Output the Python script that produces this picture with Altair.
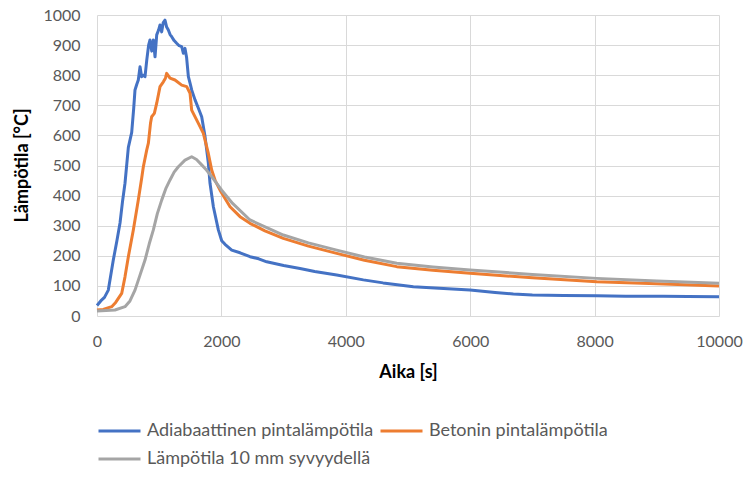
import altair as alt
import pandas as pd

# Time [s] and temperature [°C] samples for each series
blue_t = [0, 60, 120, 182, 262, 320, 370, 410, 450, 504, 558, 590, 611, 640, 664, 692,
          718, 745, 772, 800, 830, 852, 880, 906, 933, 960, 990, 1013, 1040, 1065, 1093,
          1120, 1147, 1175, 1201, 1240, 1281, 1320, 1362, 1388, 1415, 1440, 1469, 1500,
          1522, 1576, 1630, 1683, 1737, 1790, 1817, 1871, 1951, 2005, 2058, 2166, 2300,
          2460, 2600, 2729, 3000, 3264, 3500, 3854, 4282, 4600, 5086, 5500, 5998, 6400,
          6694, 7000, 7500, 8035, 8500, 9100, 9500, 10000]
blue_v = [35, 50, 62, 86, 186, 250, 309, 380, 441, 560, 610, 690, 751, 770, 784, 828,
          795, 800, 795, 850, 900, 917, 880, 917, 861, 934, 950, 967, 944, 975, 983,
          960, 950, 935, 928, 915, 906, 898, 895, 873, 889, 860, 795, 770,
          751, 718, 690, 662, 596, 508, 441, 363, 286, 250, 238, 219, 210,
          197, 190, 180, 168, 158, 148, 136, 120, 110, 97, 92, 86, 78,
          73, 70, 68, 67, 66, 66, 65, 64]

orange_t = [0, 100, 236, 300, 397, 450, 504, 584, 664, 720, 745, 799, 826, 860, 879, 922,
            960, 1013, 1067, 1100, 1120, 1174, 1254, 1362, 1442, 1496, 1522, 1630, 1710,
            1790, 1844, 1900, 1978, 2139, 2300, 2460, 2700, 2996, 3400, 3854, 4300, 4819,
            5400, 5998, 7000, 8035, 9000, 10000]
orange_v = [20, 22, 31, 45, 75, 130, 197, 286, 385, 460, 496, 551, 574, 640, 662, 673,
            707, 762, 778, 790, 806, 790, 784, 767, 762, 740, 684, 640, 607,
            540, 485, 450, 418, 363, 330, 308, 283, 258, 232, 208, 185, 164,
            152, 142, 127, 114, 107, 100]

gray_t = [0, 289, 450, 530, 611, 690, 772, 840, 906, 970, 1040, 1110, 1174, 1240, 1308,
          1415, 1522, 1600, 1683, 1760, 1844, 2005, 2180, 2460, 2996, 3400, 3854, 4300,
          4819, 5400, 5998, 7000, 8035, 9000, 10000]
gray_v = [17, 20, 31, 50, 86, 135, 186, 240, 286, 340, 385, 425, 452, 478, 496,
          518, 529, 520, 502, 485, 463, 418, 374, 319, 269, 243, 219, 196,
          175, 163, 153, 138, 125, 116, 109]

series_names = ["Adiabaattinen pintalämpötila", "Betonin pintalämpötila",
                "Lämpötila 10 mm syvyydellä"]
series_colors = ["#4472C4", "#ED7D31", "#A5A5A5"]

frames = []
for name, ts, vs in zip(series_names, [blue_t, orange_t, gray_t], [blue_v, orange_v, gray_v]):
    frames.append(pd.DataFrame({"t": ts, "v": vs, "s": name}))
df = pd.concat(frames, ignore_index=True)

FONT = "Lato"

x_enc = alt.X("t:Q", title="Aika [s]",
              scale=alt.Scale(domain=[0, 10000], nice=False),
              axis=alt.Axis(values=[0, 2000, 4000, 6000, 8000, 10000], format="d",
                            labelFlush=False, labelOverlap=False,
                            labelPadding=17, titleY=56, titleBaseline="middle"))
y_enc = alt.Y("v:Q", title="Lämpötila [°C]",
              scale=alt.Scale(domain=[0, 1000], nice=False),
              axis=alt.Axis(values=list(range(0, 1001, 100)), format="d",
                            labelFlush=False, labelOverlap=False,
                            labelPadding=17, titleX=-75, titleY=150,
                            titleBaseline="middle", titleAlign="center"))
color_enc = alt.Color("s:N", title=None,
                      scale=alt.Scale(domain=series_names, range=series_colors),
                      legend=alt.Legend(orient="none", legendX=0, legendY=407,
                                        direction="horizontal", columns=2,
                                        symbolType="stroke",
                                        symbolSize=1764, symbolStrokeWidth=3,
                                        clipHeight=18, rowPadding=10, columnPadding=5,
                                        labelFontSize=18, labelFont=FONT,
                                        labelColor="#595959", labelOffset=5,
                                        labelLimit=400, padding=0))

layers = []
for name in series_names:
    layers.append(
        alt.Chart(df).transform_filter(alt.datum.s == name)
        .mark_line(strokeWidth=3, strokeJoin="round")
        .encode(x=x_enc, y=y_enc, color=color_enc, order="t:Q")
    )

chart = (
    alt.layer(*layers)
    .properties(width=622, height=301, background="white",
                autosize=alt.AutoSizeParams(type="none"),
                padding={"left": 97, "top": 15, "right": 27, "bottom": 162})
    .configure_view(stroke=None)
    .configure_axis(grid=True, gridColor="#D9D9D9", gridWidth=1, domain=False,
                    ticks=False, labelFont=FONT, labelFontSize=16,
                    labelColor="#595959", titleFont=FONT, titleFontSize=18,
                    titleFontWeight="bold", titleColor="#000000")
)

chart.save("out.html", embed_options={"renderer": "svg", "actions": False})
